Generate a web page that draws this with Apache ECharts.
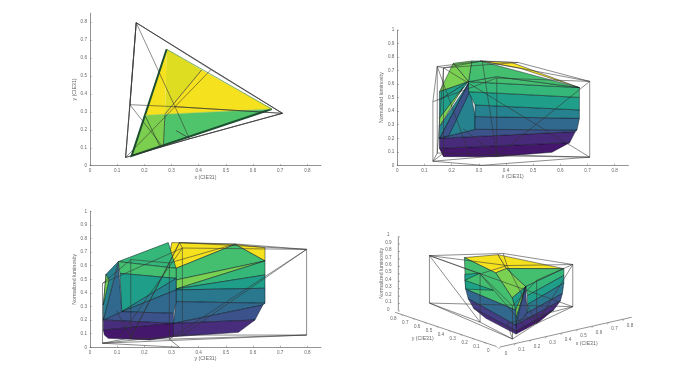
<!DOCTYPE html>
<html><head><meta charset="utf-8">
<style>html,body{margin:0;padding:0;background:#fff}#c{width:694px;height:390px}</style>
<script src="https://cdn.jsdelivr.net/npm/echarts@6/dist/echarts.min.js"></script>
</head><body><div id="c"></div>
<script>
// ---- data ----
const xTicks=[0,.1,.2,.3,.4,.5,.6,.7,.8];
const lumTicks=[0,.1,.2,.3,.4,.5,.6,.7,.8,.9,1];
// wire-frame gamut (x, y, luminosity)
const wireVertices={
 B0:[.131,.046,.03],K:[.3127,.329,0],R0:[.708,.292,.06],G0:[.17,.797,.09],M0:[.366,.15,.07],C0:[.147,.34,.09],
 B1:[.131,.046,.47],R1:[.708,.292,.62],G1:[.17,.797,.72],W:[.3127,.329,.77],C1:[.147,.34,.73],M1:[.366,.15,.645],Y1:[.445,.535,.76],
 Pm:[.243,.098,.27],N2:[.267,.106,.07]};
const wireEdges=["B0-M0","M0-R0","R0-G0","B0-C0","C0-G0","B0-K","K-R0","B0-G0","B0-B1","R0-R1","G0-G1","M0-M1","C0-C1",
 "B1-C1","C1-G1","G1-Y1","Y1-R1","R1-M1","M1-B1","W-C1","W-Y1","W-R1","W-M0","W-G1","R1-M0","G1-R0","G1-C0","Pm-M0","C1-N2"];
// chromaticity view (x, y)
const panel1Colors=["#dfdd22","#f5e11e","#f5e11e","#4fc46a","#7ccf4e"];
const panel1Faces=[
 [[.282,.649],[.411,.534],[.276,.287]],
 [[.282,.649],[.276,.287],[.202,.281]],
 [[.411,.534],[.669,.316],[.276,.287]],
 [[.276,.287],[.669,.316],[.27,.11]],
 [[.202,.281],[.276,.287],[.27,.11],[.153,.054],[.16,.087],[.178,.18]]];
const panel1Edges=[
 {w:2,c:"#1c4f30",p:[[.282,.649],[.16,.087],[.153,.054],[.669,.316]]},
 {w:.8,c:"#5a9a40",p:[[.282,.649],[.669,.316]]},
 {w:.8,c:"#2a4a2a",p:[[.276,.287],[.27,.11]]},
 {w:.7,c:"#2a4a2a",p:[[.202,.281],[.258,.106]]},
 {w:.7,c:"#333",p:[[.411,.534],[.276,.287]]},
 {w:.7,c:"#333",p:[[.317,.195],[.366,.153]]},
 {w:.6,c:"#a9c94a",p:[[.202,.281],[.276,.287],[.669,.316]]}];
// x / luminosity view
const panel2Colors=["#44166c","#472a7a","#3b528b","#26828e","#3b528b","#31688e","#26828e","#1f9e89","#35b779","#44bf70","#44bf70","#fde725","#6ece58","#7ad151","#1fa187","#1f9e89","#7ad151","#26828e"];
const panel2Faces=[
 [[.155,.126],[.17,.064],[.366,.064],[.569,.096],[.634,.167]],
 [[.155,.2],[.155,.126],[.634,.167],[.655,.249]],
 [[.155,.2],[.286,.266],[.661,.261],[.655,.249]],
 [[.155,.2],[.262,.606],[.286,.372],[.286,.266]],
 [[.155,.2],[.262,.606],[.268,.55],[.19,.22]],
 [[.286,.266],[.661,.261],[.67,.347],[.286,.36]],
 [[.286,.36],[.67,.347],[.67,.409],[.286,.446]],
 [[.262,.544],[.67,.502],[.67,.409],[.286,.446]],
 [[.262,.618],[.67,.574],[.67,.502],[.262,.544]],
 [[.262,.618],[.366,.655],[.67,.574]],
 [[.274,.771],[.305,.771],[.67,.574],[.366,.655],[.262,.618]],
 [[.305,.771],[.421,.76],[.67,.574],[.452,.717]],
 [[.206,.754],[.274,.771],[.262,.618]],
 [[.155,.544],[.206,.754],[.262,.618]],
 [[.155,.544],[.262,.618],[.155,.483]],
 [[.155,.483],[.262,.618],[.155,.347]],
 [[.155,.347],[.243,.58],[.155,.286]],
 [[.155,.286],[.262,.606],[.155,.2]]];
// y / luminosity view
const panel3Colors=["#f5e11e","#f5e11e","#44bf70","#7ad151","#35b779","#1f9e89","#2a788e","#31688e","#3b528b","#472d7b","#35b779","#44bf70","#1f9e89","#26828e","#31688e","#3b528b","#472d7b","#44166c","#31688e","#26828e","#7ad151"];
const panel3Faces=[
 [[.301,.77],[.534,.757],[.317,.581],[.288,.642]],
 [[.534,.757],[.644,.733],[.644,.635]],
 [[.534,.757],[.644,.635],[.317,.495],[.317,.581]],
 [[.317,.495],[.644,.635],[.317,.429]],
 [[.317,.429],[.644,.635],[.644,.532]],
 [[.317,.429],[.644,.532],[.644,.434],[.317,.422]],
 [[.317,.422],[.644,.434],[.644,.324],[.317,.336]],
 [[.317,.336],[.644,.324],[.636,.311],[.307,.176]],
 [[.307,.176],[.636,.311],[.607,.201]],
 [[.307,.176],[.607,.201],[.546,.11],[.307,.078]],
 [[.104,.63],[.288,.77],[.317,.581]],
 [[.104,.63],[.317,.581],[.317,.507],[.11,.544]],
 [[.11,.544],[.317,.507],[.117,.262]],
 [[.117,.262],[.317,.507],[.317,.422]],
 [[.117,.262],[.317,.422],[.317,.336],[.307,.25]],
 [[.049,.201],[.117,.262],[.307,.25],[.307,.176]],
 [[.049,.201],[.307,.176],[.049,.127]],
 [[.049,.127],[.307,.176],[.307,.078],[.221,.054],[.067,.066],[.053,.09]],
 [[.049,.201],[.104,.618],[.117,.262]],
 [[.049,.311],[.059,.537],[.104,.63],[.049,.201]],
 [[.049,.311],[.07,.495],[.059,.537]]];
// 3-D view surface vertices (x, y, luminosity)
const surfaceVertices={
 Gt:[.282,.649,.72],Yt:[.411,.534,.76],Wt:[.276,.287,.77],Ct:[.202,.281,.75],Rt:[.669,.316,.57],Mt:[.265,.11,.63],Bt:[.16,.087,.54],
 Ra:[.669,.316,.48],Rb:[.669,.316,.38],Rc:[.655,.31,.25],Rd:[.634,.3,.167],Re:[.569,.27,.096],Rf:[.4,.17,.07],
 Ma:[.28,.115,.5],Mb:[.28,.115,.38],Mc:[.277,.115,.27],
 Ga:[.282,.645,.5],Gb:[.282,.645,.42],Gc:[.28,.635,.31],Gd:[.275,.607,.2],Ge:[.263,.546,.11],Gf:[.23,.4,.07],
 Ba:[.155,.05,.4],Bb:[.155,.05,.28],Bc:[.155,.05,.2],Bd:[.16,.05,.12],Be:[.17,.067,.066],
 Pa:[.25,.475,.62],Pb:[.21,.31,.5]};
const panel4Colors=["#f5e11e","#f5e11e","#7ad151","#44bf70","#35b779","#1f9e89","#2a788e","#3b528b","#472d7b","#44166c","#1f9e89","#7ad151","#26828e","#3b528b","#44bf70","#1fa187","#1fa187","#31688e","#433e85","#472d7b"];
const panel4Faces=[
 ["Gt","Yt","Wt","Ct"],["Yt","Rt","Wt"],["Ct","Wt","Mt","Bt"],["Wt","Rt","Mt"],
 ["Mt","Rt","Ra","Ma"],["Ma","Ra","Rb","Mb"],["Mb","Rb","Rc","Mc"],["Bc","Mc","Rc","Rd"],["Bc","Rd","Re","Bd"],["Bd","Re","Rf","Be"],
 ["Bt","Mt","Ba"],["Ba","Mt","Bb"],["Bb","Mt","Bc"],["Bc","Mt","Mc"],
 ["Gt","Ct","Bt","Ba","Gc"],["Ga","Pa","Gb"],["Gb","Pb","Gc"],["Gc","Ba","Bc","Gd"],["Gd","Bc","Bd","Ge"],["Ge","Bd","Be","Gf"]];
const axisNames={x:"x (CIE31)",y:"y (CIE31)",lum:"Normalized luminosity"};

// ---- layout and style ----
const inkAxis="#666", inkText="#666", ff="Liberation Sans, Arial, sans-serif";
const VIEW={o:[383,368],ex:[465,-105],ey:[-356,-120],ez:[0,-226]};
function project(p){return [VIEW.o[0]+p[0]*VIEW.ex[0]+p[1]*VIEW.ey[0]+p[2]*VIEW.ez[0],
                            VIEW.o[1]+p[0]*VIEW.ex[1]+p[1]*VIEW.ey[1]+p[2]*VIEW.ez[1]];}
const viewOf=[p=>[p[0],p[1]],p=>[p[0],p[2]],p=>[p[1],p[2]],project];

function axis(type,max,ticks,name,gap,extra){
 return Object.assign({type:'value',min:0,max:max,gridIndex:type,name:name,nameLocation:'middle',nameGap:gap,
  nameTextStyle:{fontSize:5.2,color:inkText,fontFamily:ff},
  axisLine:{show:true,onZero:false,lineStyle:{color:inkAxis,width:.7}},
  axisTick:{show:true,inside:true,length:1.6,lineStyle:{color:inkAxis,width:.5},customValues:ticks},
  axisLabel:{fontSize:4.6,color:inkText,margin:3,fontFamily:ff,customValues:ticks,hideOverlap:false,showMinLabel:true,showMaxLabel:true},
  splitLine:{show:false}},extra||{});
}
const grids=[
 {left:90,top:13.2,width:231,height:152.5},
 {left:397.3,top:30,width:231,height:135.3},
 {left:90,top:211.3,width:231,height:136},
 {left:370,top:225,width:260,height:150}];
const xAxes=[axis(0,.85,xTicks,axisNames.x,4),axis(1,.85,xTicks,axisNames.x,4),axis(2,.85,xTicks,axisNames.y,4),
 {type:'value',gridIndex:3,min:0,max:780,show:false}];
const yAxes=[axis(0,.85,xTicks,axisNames.y,5),axis(1,1,lumTicks,axisNames.lum,2.5),axis(2,1,lumTicks,axisNames.lum,2.5),
 {type:'value',gridIndex:3,min:0,max:450,inverse:true,show:false}];

function layer(i,renderItem,n,z){
 return {type:'custom',xAxisIndex:i,yAxisIndex:i,coordinateSystem:'cartesian2d',silent:true,clip:false,z:z,animation:false,
  encode:{x:0,y:1},data:Array.from({length:n},()=>[0,0]),renderItem};
}
function faceLayer(i,faces,colors,stroke){
 return layer(i,(params,api)=>({type:'polygon',
   shape:{points:faces[params.dataIndex].map(p=>api.coord(p))},
   style:{fill:colors[params.dataIndex],stroke:stroke?'rgba(10,20,30,.8)':'none',lineWidth:.6}}),faces.length,2);
}
function wireLayer(i){
 const segs=wireEdges.map(e=>e.split('-').map(k=>viewOf[i](wireVertices[k])));
 return layer(i,(params,api)=>{const s=segs[params.dataIndex],a=api.coord(s[0]),b=api.coord(s[1]);
   return {type:'line',shape:{x1:a[0],y1:a[1],x2:b[0],y2:b[1]},style:{stroke:'#333',lineWidth:.7,opacity:.8}};},segs.length,4);
}
function edgeLayer(i,edges){
 return layer(i,(params,api)=>({type:'polyline',shape:{points:edges[params.dataIndex].p.map(p=>api.coord(p))},
   style:{stroke:edges[params.dataIndex].c,lineWidth:edges[params.dataIndex].w,fill:'none'}}),edges.length,3);
}
// hand-built 3-D axes, drawn on the hidden view axes
const axes3d=[
 {o:[390,366],d:VIEW.ex,ticks:xTicks,end:.85,tick:[-4,6],off:[18,20]},
 {o:[378,364],d:VIEW.ey,ticks:xTicks,end:.85,tick:[5,4],off:[-23,14]},
 {o:[85,258],d:[0,-223],ticks:lumTicks,end:1,tick:[5,0],off:[-30,-5]}];
function axes3dLayer(){
 return layer(3,(params,api)=>{
  const kids=[];
  axes3d.forEach(a=>{
   const at=t=>[a.o[0]+t*a.d[0],a.o[1]+t*a.d[1]];
   const p0=api.coord(at(0)),p1=api.coord(at(a.end));
   kids.push({type:'line',shape:{x1:p0[0],y1:p0[1],x2:p1[0],y2:p1[1]},style:{stroke:inkAxis,lineWidth:.7}});
   a.ticks.forEach(t=>{
    const s=at(t),q=api.coord(s),r=api.coord([s[0]+a.tick[0],s[1]+a.tick[1]]),l=api.coord([s[0]+a.off[0],s[1]+a.off[1]]);
    kids.push({type:'line',shape:{x1:q[0],y1:q[1],x2:r[0],y2:r[1]},style:{stroke:inkAxis,lineWidth:.5}});
    kids.push({type:'text',x:l[0],y:l[1],style:{text:String(t),fontSize:4.6,fill:inkText,fontFamily:ff,align:'center',verticalAlign:'middle'}});
   });
  });
  const lab=(txt,p,rot)=>{const c=api.coord(p);
   kids.push({type:'text',x:c[0],y:c[1],rotation:rot||0,style:{text:txt,fontSize:5.2,fill:inkText,fontFamily:ff,align:'center',verticalAlign:'middle'}});};
  lab(axisNames.x,[650,357]);lab(axisNames.y,[158,342]);lab(axisNames.lum,[35,145],Math.PI/2);
  return {type:'group',children:kids};
 },1,1);
}
const panel4Pts=panel4Faces.map(f=>f.map(k=>project(surfaceVertices[k])));

const chart=echarts.init(document.getElementById('c'),null,{renderer:'canvas'});
chart.setOption({animation:false,backgroundColor:'#fff',grid:grids,xAxis:xAxes,yAxis:yAxes,tooltip:{show:false},
 series:[
  faceLayer(0,panel1Faces,panel1Colors,false),edgeLayer(0,panel1Edges),wireLayer(0),
  faceLayer(1,panel2Faces,panel2Colors,true),wireLayer(1),
  faceLayer(2,panel3Faces,panel3Colors,true),wireLayer(2),
  faceLayer(3,panel4Pts,panel4Colors,true),wireLayer(3),axes3dLayer()
 ]});
</script></body></html>
